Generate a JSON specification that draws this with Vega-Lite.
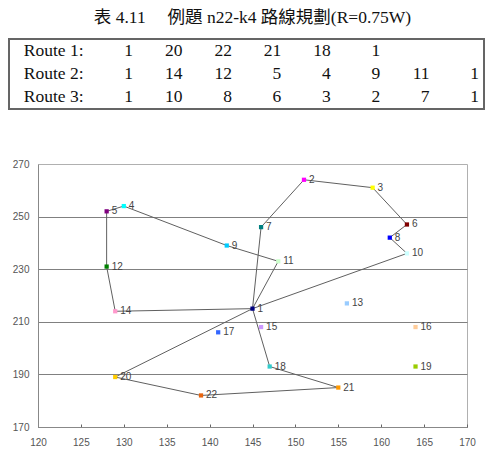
{
  "$schema": "https://vega.github.io/schema/vega-lite/v6.json",
  "padding": {"left": 8, "top": 8, "right": 5, "bottom": 0},
  "background": "white",
  "spacing": 48,
  "config": {"view": {"stroke": null}},
  "datasets": {
    "table": [
      {"r": 1, "col": 0, "t": "Route 1:"},
      {"r": 1, "col": 1, "t": "1"},
      {"r": 1, "col": 2, "t": "20"},
      {"r": 1, "col": 3, "t": "22"},
      {"r": 1, "col": 4, "t": "21"},
      {"r": 1, "col": 5, "t": "18"},
      {"r": 1, "col": 6, "t": "1"},
      {"r": 2, "col": 0, "t": "Route 2:"},
      {"r": 2, "col": 1, "t": "1"},
      {"r": 2, "col": 2, "t": "14"},
      {"r": 2, "col": 3, "t": "12"},
      {"r": 2, "col": 4, "t": "5"},
      {"r": 2, "col": 5, "t": "4"},
      {"r": 2, "col": 6, "t": "9"},
      {"r": 2, "col": 7, "t": "11"},
      {"r": 2, "col": 8, "t": "1"},
      {"r": 3, "col": 0, "t": "Route 3:"},
      {"r": 3, "col": 1, "t": "1"},
      {"r": 3, "col": 2, "t": "10"},
      {"r": 3, "col": 3, "t": "8"},
      {"r": 3, "col": 4, "t": "6"},
      {"r": 3, "col": 5, "t": "3"},
      {"r": 3, "col": 6, "t": "2"},
      {"r": 3, "col": 7, "t": "7"},
      {"r": 3, "col": 8, "t": "1"}
    ],
    "pts": [
      {"id": 1, "x": 145, "y": 215},
      {"id": 2, "x": 151, "y": 264},
      {"id": 3, "x": 159, "y": 261},
      {"id": 4, "x": 130, "y": 254},
      {"id": 5, "x": 128, "y": 252},
      {"id": 6, "x": 163, "y": 247},
      {"id": 7, "x": 146, "y": 246},
      {"id": 8, "x": 161, "y": 242},
      {"id": 9, "x": 142, "y": 239},
      {"id": 10, "x": 163, "y": 236},
      {"id": 11, "x": 148, "y": 233},
      {"id": 12, "x": 128, "y": 231},
      {"id": 13, "x": 156, "y": 217},
      {"id": 14, "x": 129, "y": 214},
      {"id": 15, "x": 146, "y": 208},
      {"id": 16, "x": 164, "y": 208},
      {"id": 17, "x": 141, "y": 206},
      {"id": 18, "x": 147, "y": 193},
      {"id": 19, "x": 164, "y": 193},
      {"id": 20, "x": 129, "y": 189},
      {"id": 21, "x": 155, "y": 185},
      {"id": 22, "x": 139, "y": 182}
    ],
    "routes": [
      {"route": 1, "seq": 1, "id": 1},
      {"route": 1, "seq": 2, "id": 20},
      {"route": 1, "seq": 3, "id": 22},
      {"route": 1, "seq": 4, "id": 21},
      {"route": 1, "seq": 5, "id": 18},
      {"route": 1, "seq": 6, "id": 1},
      {"route": 2, "seq": 1, "id": 1},
      {"route": 2, "seq": 2, "id": 14},
      {"route": 2, "seq": 3, "id": 12},
      {"route": 2, "seq": 4, "id": 5},
      {"route": 2, "seq": 5, "id": 4},
      {"route": 2, "seq": 6, "id": 9},
      {"route": 2, "seq": 7, "id": 11},
      {"route": 2, "seq": 8, "id": 1},
      {"route": 3, "seq": 1, "id": 1},
      {"route": 3, "seq": 2, "id": 10},
      {"route": 3, "seq": 3, "id": 8},
      {"route": 3, "seq": 4, "id": 6},
      {"route": 3, "seq": 5, "id": 3},
      {"route": 3, "seq": 6, "id": 2},
      {"route": 3, "seq": 7, "id": 7},
      {"route": 3, "seq": 8, "id": 1}
    ]
  },
  "vconcat": [
    {
      "width": 429,
      "height": 70,
      "title": {"text": "表 4.11　 例題 n22-k4 路線規劃(R=0.75W)", "font": "Liberation Serif, Noto Sans CJK TC", "fontSize": 17.5, "fontWeight": "normal", "color": "#111", "offset": 12, "anchor": "middle", "frame": "group"},
      "data": {"name": "table"},
      "encoding": {
        "x": {"field": "col", "type": "quantitative", "scale": {"domain": [-0.9225, 7.7565], "nice": false, "zero": false}, "axis": null},
        "y": {"field": "r", "type": "quantitative", "scale": {"domain": [0.5, 3.5], "nice": false, "zero": false, "reverse": true}, "axis": null}
      },
      "layer": [
        {
          "mark": {"type": "rect", "filled": false, "stroke": "#666", "strokeWidth": 1.5},
          "encoding": {
            "x": {"datum": -1.509, "type": "quantitative"},
            "x2": {"datum": 8.1},
            "y": {"datum": 0.5, "type": "quantitative"},
            "y2": {"datum": 3.5}
          }
        },
        {
          "mark": {"type": "text", "align": "right", "baseline": "middle", "font": "Liberation Serif", "fontSize": 17.5, "color": "#111"},
          "encoding": {"text": {"field": "t"}}
        }
      ]
    },
    {
      "width": 429,
      "height": 263,
      "view": {"stroke": "#b0b0b0"},
      "encoding": {
        "x": {"field": "x", "type": "quantitative", "scale": {"domain": [120, 170], "nice": false, "zero": false},
              "axis": {"values": [120, 125, 130, 135, 140, 145, 150, 155, 160, 165, 170], "grid": false, "title": null, "domainColor": "#888", "tickColor": "#666", "tickSize": -3, "labelPadding": 13, "labelFlush": false, "labelFont": "Liberation Sans", "labelFontSize": 10, "labelColor": "#555"}},
        "y": {"field": "y", "type": "quantitative", "scale": {"domain": [170, 270], "nice": false, "zero": false},
              "axis": {"values": [170, 190, 210, 230, 250, 270], "grid": true, "gridColor": {"condition": {"test": "datum.value == 270", "value": "transparent"}, "value": "#808080"}, "ticks": false, "title": null, "domainColor": "#888", "labelPadding": 9, "minExtent": 29, "labelFont": "Liberation Sans", "labelFontSize": 10, "labelColor": "#555"}}
      },
      "layer": [
        {
          "data": {"name": "routes"},
          "transform": [{"lookup": "id", "from": {"data": {"name": "pts"}, "key": "id", "fields": ["x", "y"]}}],
          "mark": {"type": "line", "color": "#606060", "strokeWidth": 1},
          "encoding": {"detail": {"field": "route"}, "order": {"field": "seq"}}
        },
        {
          "data": {"name": "pts"},
          "mark": {"type": "square", "filled": true, "size": 18, "opacity": 1},
          "encoding": {
            "color": {"field": "id", "type": "nominal", "legend": null,
              "scale": {"domain": [1,2,3,4,5,6,7,8,9,10,11,12,13,14,15,16,17,18,19,20,21,22],
                        "range": ["#000080","#FF00FF","#FFFF00","#00FFFF","#800080","#800000","#008080","#0000FF","#00CCFF","#CCFFFF","#CCFFCC","#008000","#99CCFF","#FF99CC","#CC99FF","#FFCC99","#3366FF","#33CCCC","#99CC00","#FFCC00","#FF9900","#E8650F"]}}
          }
        },
        {
          "data": {"name": "pts"},
          "mark": {"type": "text", "align": "left", "baseline": "middle", "dx": 5, "font": "Liberation Sans", "fontSize": 10, "color": "#444"},
          "encoding": {"text": {"field": "id"}}
        }
      ]
    }
  ]
}
